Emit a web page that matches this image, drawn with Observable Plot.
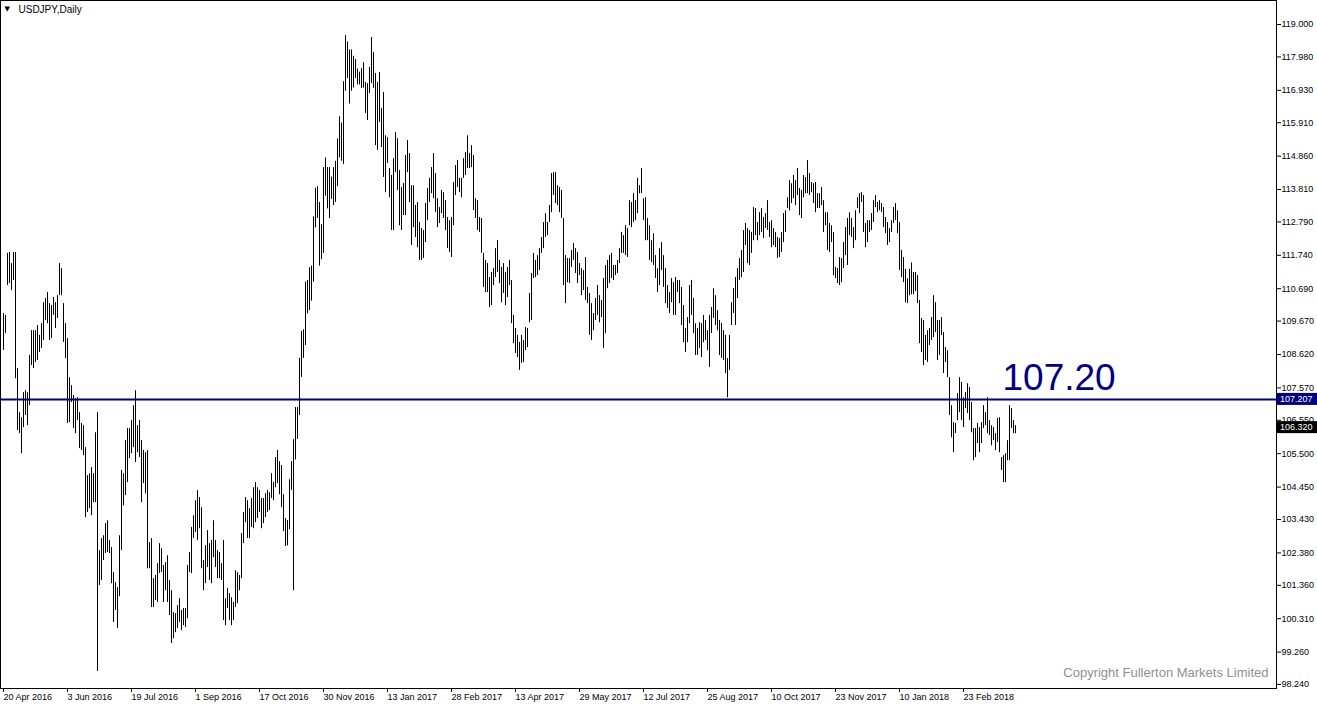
<!DOCTYPE html>
<html><head><meta charset="utf-8">
<script src="https://cdn.jsdelivr.net/npm/d3@7"></script>
<script src="https://cdn.jsdelivr.net/npm/@observablehq/plot@0.6"></script>
<style>html,body{margin:0;padding:0;background:#fff;}</style>
</head><body><div id="chart"></div>
<script>
const symbolLabel = "USDJPY,Daily";
const copyright = "Copyright Fullerton Markets Limited";

// Daily bar highs (index 0 = 20 Apr 2016)
const high = [
109.91,109.85,111.80,111.83,111.48,111.83,111.83,108.18,106.79,106.63,
107.42,107.48,107.42,108.59,109.37,109.37,109.37,109.53,109.22,109.59,
110.25,110.38,110.57,110.22,110.16,110.41,110.25,110.47,111.48,111.32,
110.22,109.59,109.12,107.89,107.64,107.33,107.23,107.26,106.79,106.45,
106.38,105.69,104.81,104.87,105.06,104.87,106.16,106.79,102.45,102.83,
102.92,103.30,103.39,102.77,102.55,101.76,101.45,101.29,102.92,104.97,
104.87,105.91,106.29,106.29,106.54,107.01,107.48,106.38,106.54,105.91,
105.60,105.53,105.60,102.70,102.83,101.57,101.67,102.04,102.67,102.51,
101.98,102.07,102.29,101.51,101.19,100.50,100.47,100.72,100.94,100.57,
100.63,100.63,101.98,102.39,103.18,103.55,104.02,104.34,104.12,103.80,
102.14,102.61,103.08,102.67,102.77,103.39,102.77,102.45,102.39,102.04,
102.77,100.94,101.26,101.10,100.97,100.82,101.82,101.76,101.67,102.99,
103.65,104.12,104.02,103.77,104.09,104.43,104.59,104.43,104.34,104.09,
104.09,104.24,104.34,104.27,104.87,104.59,105.38,105.60,105.25,105.13,
104.21,103.46,103.40,104.68,105.25,105.94,106.95,106.95,108.50,109.35,
109.40,110.90,110.95,111.35,111.40,112.95,113.85,113.90,113.40,112.70,
114.50,114.80,114.50,114.50,114.20,114.50,114.70,115.40,116.10,115.90,
117.20,118.65,118.45,118.20,118.20,118.00,117.90,117.60,117.50,117.61,
117.80,117.18,117.14,117.65,118.59,118.12,117.46,117.18,117.49,116.36,
116.86,115.50,115.44,114.47,114.25,114.78,115.60,115.41,114.41,113.87,
114.00,114.88,115.35,114.94,113.93,113.93,113.31,113.40,112.77,112.58,
112.52,113.37,113.84,114.16,114.50,114.94,114.31,113.52,113.24,113.78,
113.71,113.46,112.93,112.83,112.93,114.03,114.56,114.72,114.16,114.16,
114.78,114.97,115.50,114.94,115.19,114.88,113.52,113.46,112.93,112.90,
111.80,111.58,111.48,111.04,111.20,111.32,111.95,112.20,111.58,111.36,
111.48,111.20,111.36,111.58,110.95,109.85,109.44,109.22,109.00,109.22,
109.06,109.47,109.44,110.54,111.17,111.80,111.58,111.73,111.95,112.30,
112.77,113.05,112.77,113.31,114.31,114.34,114.34,113.93,113.87,113.78,
112.90,111.73,111.64,111.64,111.89,112.11,111.95,111.83,111.48,111.32,
111.26,111.67,110.73,110.54,110.22,109.91,110.38,110.79,110.47,110.32,
111.01,111.42,111.58,111.73,111.80,111.42,111.42,111.58,111.95,112.46,
112.36,112.67,112.58,113.46,113.40,113.68,113.46,114.16,113.93,114.47,
113.52,113.55,112.90,112.67,112.20,112.42,111.73,111.32,111.95,112.14,
111.73,111.32,110.79,110.57,111.01,110.88,111.04,110.95,110.95,110.73,
110.16,109.44,109.78,110.79,110.95,110.38,109.59,109.44,109.62,109.59,
109.85,109.69,109.37,109.85,110.10,110.69,110.47,110.00,109.69,109.60,
109.37,109.22,108.49,109.22,110.25,110.69,111.04,111.32,111.64,111.89,
112.52,112.74,112.58,112.52,112.46,113.24,113.21,112.77,113.08,113.21,
112.93,113.05,113.46,112.77,112.83,112.58,112.46,112.30,112.27,112.46,
113.05,113.14,113.55,114.09,113.99,114.25,114.09,114.47,113.84,113.78,
114.25,114.19,114.72,114.31,114.03,113.99,114.03,113.68,113.68,113.87,
113.46,113.08,113.08,112.74,112.67,112.46,111.36,111.32,111.67,111.64,
112.14,112.61,112.90,113.08,112.90,112.61,113.14,113.55,113.68,113.71,
113.62,112.74,112.83,112.83,113.05,113.46,113.62,113.40,113.46,113.37,
113.24,112.93,112.77,112.58,112.83,113.24,113.37,113.14,112.77,111.89,
111.67,111.30,111.00,111.30,111.50,111.20,111.20,111.10,110.32,109.75,
109.69,109.22,109.37,109.44,109.78,110.47,110.25,109.69,109.69,109.78,
109.31,108.84,108.74,107.89,107.01,106.48,106.45,107.39,107.89,107.74,
107.26,107.42,107.70,107.58,107.11,106.29,106.29,106.45,106.32,106.48,
107.01,106.79,107.26,106.54,106.38,106.32,106.13,106.61,106.63,105.38,
105.44,105.50,105.91,107.01,106.92,106.54,106.38
];

// Daily bar lows
const low = [
108.75,109.28,110.79,110.85,110.63,110.95,107.86,106.23,106.13,105.50,
106.32,106.70,106.38,107.01,108.27,108.18,108.37,108.43,108.68,108.81,
109.06,109.69,109.59,109.06,109.12,109.85,109.44,109.75,110.47,110.47,
109.00,108.49,106.45,106.48,107.11,106.29,106.13,106.54,105.66,105.60,
105.44,103.49,103.65,103.77,103.55,103.96,103.96,98.65,101.35,101.51,
102.14,102.36,102.39,102.36,101.41,100.19,100.57,100.00,101.00,102.45,
103.86,104.18,104.59,105.35,105.50,105.69,105.22,105.53,105.38,103.96,
104.56,104.24,101.88,101.88,100.66,100.66,100.88,100.82,101.73,101.76,
100.82,101.19,100.82,100.41,99.53,99.68,99.87,100.00,100.19,99.93,
100.09,100.03,100.31,101.76,101.73,102.83,103.02,102.77,103.14,101.88,
101.19,101.41,101.92,101.51,101.41,102.23,101.92,101.57,101.57,101.51,
100.25,100.09,100.63,100.25,100.09,100.25,100.66,100.78,101.19,101.57,
102.67,103.33,102.83,102.83,103.18,103.14,103.33,103.46,103.65,103.14,
103.30,103.49,103.65,103.71,104.09,104.02,104.43,104.56,104.21,103.80,
103.05,102.58,102.60,103.11,104.34,101.19,105.30,105.95,106.70,107.90,
108.50,108.90,109.90,110.00,110.30,110.90,112.60,112.90,111.40,111.60,
111.80,113.60,113.20,112.90,113.50,113.30,113.40,113.90,114.80,114.70,
114.60,116.90,117.30,116.50,116.90,117.00,117.30,117.10,117.10,116.99,
117.00,116.20,115.98,116.83,117.14,116.99,115.19,115.04,115.92,115.13,
114.19,113.71,114.63,113.55,112.52,112.52,114.34,113.78,112.67,112.52,
112.99,112.99,114.34,113.40,112.05,112.61,112.30,111.98,111.58,111.58,
111.64,112.14,112.83,113.40,113.68,113.52,113.09,112.61,112.74,113.05,
112.90,112.52,111.95,111.83,111.67,112.67,113.62,113.87,113.71,113.55,
114.16,114.25,114.47,114.47,114.50,113.15,112.90,112.52,112.46,111.80,
110.73,110.57,110.57,110.10,110.16,110.79,111.04,111.20,110.85,110.25,
110.54,110.16,110.41,110.79,109.59,108.96,108.65,108.52,108.12,108.34,
108.37,108.74,108.84,109.62,109.69,111.01,111.04,111.10,111.26,111.80,
111.95,112.30,112.36,112.77,113.08,113.62,113.37,113.30,113.08,112.90,
110.79,110.22,110.88,110.85,111.36,111.58,111.17,110.85,111.10,110.47,
110.63,110.32,110.22,109.22,109.06,109.37,109.69,109.85,109.62,109.78,
108.81,109.28,110.69,110.85,111.01,110.95,111.10,111.17,111.48,111.80,
111.80,111.73,111.67,112.67,112.61,112.77,112.83,113.05,113.68,113.68,
112.83,112.20,112.20,111.58,111.51,111.42,111.01,110.57,110.79,111.26,
110.73,110.22,110.07,109.91,110.25,109.85,109.85,110.57,110.22,109.53,
108.99,108.68,108.99,109.59,109.85,109.28,108.59,108.59,108.81,108.52,
108.99,109.06,108.74,108.21,109.28,109.75,109.53,109.37,108.59,108.50,
108.43,108.02,107.26,108.12,109.53,109.91,109.53,110.38,110.95,111.04,
111.20,112.05,111.48,111.42,111.80,112.20,112.36,112.20,112.36,112.46,
112.27,112.58,112.52,112.30,111.98,112.05,111.98,111.64,111.67,111.83,
112.14,112.46,113.21,113.14,113.37,113.52,113.30,113.62,112.99,112.90,
113.55,113.68,113.68,113.62,113.71,113.37,113.08,113.21,113.21,113.30,
112.46,112.67,111.89,111.83,112.14,111.10,111.01,110.85,110.79,110.88,
111.32,111.73,111.42,112.36,112.30,111.95,112.20,113.21,113.05,113.40,
112.46,111.98,112.14,112.46,112.52,112.77,113.24,113.08,113.14,113.08,
112.61,112.42,112.05,112.14,112.46,112.74,112.83,112.42,111.26,111.04,
110.88,110.25,110.22,110.47,110.50,110.50,110.60,110.22,108.96,108.68,
108.27,108.43,108.37,108.90,109.06,109.15,109.31,108.43,108.59,109.22,
108.02,108.37,107.89,106.70,106.00,105.53,106.13,106.54,106.79,106.54,
106.32,106.92,106.76,106.54,106.16,105.28,105.38,105.82,105.53,105.82,
106.29,106.38,106.13,106.07,105.75,105.91,105.60,105.85,105.53,104.97,
104.59,104.59,105.28,105.28,106.29,106.13,106.13
];

const lastClose = 106.320;
const levelValue = 107.207;
const levelLabel = "107.20";

const priceTicks = [119.000,117.980,116.930,115.910,114.860,113.810,112.790,111.740,110.690,109.670,108.620,107.570,106.550,105.500,104.450,103.430,102.380,101.360,100.310,99.260,98.240];
const priceTickLabels = ["119.000","117.980","116.930","115.910","114.860","113.810","112.790","111.740","110.690","109.670","108.620","107.570","106.550","105.500","104.450","103.430","102.380","101.360","100.310","99.260","98.240"];

const dateTickIndex = [0,32,64,96,128,160,192,224,256,288,320,352,384,416,448,480];
const dateTickLabels = ["20 Apr 2016","3 Jun 2016","19 Jul 2016","1 Sep 2016","17 Oct 2016","30 Nov 2016","13 Jan 2017","28 Feb 2017","13 Apr 2017","29 May 2017","12 Jul 2017","25 Aug 2017","10 Oct 2017","23 Nov 2017","10 Jan 2018","23 Feb 2018"];

// ---- build ----
const n = Math.min(high.length, low.length);
const bars = d3.range(n).map(i => ({i, high: high[i], low: low[i]}));

const W = 1317, H = 708, mRight = 41, mBottom = 20;
const FONT = "'Liberation Sans', Arial, sans-serif";

const priceBoxes = [
  {v: levelValue, fill: "#000080", label: levelValue.toFixed(3)},
  {v: lastClose, fill: "#000000", label: lastClose.toFixed(3)}
];

const chart = Plot.plot({
  width: W, height: H,
  marginLeft: 0, marginRight: mRight, marginTop: 0, marginBottom: mBottom,
  style: {fontFamily: FONT, fontSize: "9px", background: "#fff", color: "#000", overflow: "visible"},
  x: {type: "linear", domain: [-1.5, 636.5]},
  y: {type: "linear", domain: [98.114, 119.755]},
  marks: [
    Plot.ruleX(bars, {x: "i", y1: "low", y2: "high", stroke: "#000", strokeWidth: 1}),
    Plot.ruleY([levelValue], {stroke: "#000080", strokeWidth: 2}),
    Plot.frame({stroke: "#000"}),
    Plot.axisY({anchor: "right", ticks: priceTicks, tickFormat: d => priceTickLabels[priceTicks.indexOf(d)], tickSize: 4, tickPadding: 1, label: null, fontSize: 9, fill: "#000"}),
    Plot.axisX({anchor: "bottom", ticks: dateTickIndex, tickFormat: d => dateTickLabels[dateTickIndex.indexOf(d)], tickSize: 4, tickPadding: 1, textAnchor: "start", dx: 0, label: null, fontSize: 9, fill: "#000"}),
    Plot.text([levelLabel], {x: 499.5, y: levelValue, text: d => d, textAnchor: "start", dy: -21, fontSize: 37, fill: "#000080", fontFamily: FONT}),
    Plot.text([copyright], {frameAnchor: "bottom-right", text: d => d, dx: -8, dy: -12, fontSize: 13, fill: "#8f8f8f", fontFamily: FONT}),
    Plot.text([symbolLabel], {frameAnchor: "top-left", text: d => d, dx: 18, dy: 5, fontSize: 10, fill: "#000", fontFamily: FONT}),
    Plot.text(["\u25BC"], {frameAnchor: "top-left", text: d => d, dx: 4, dy: 6, fontSize: 7, fill: "#000", fontFamily: "'DejaVu Sans', sans-serif"}),
    (index, scales) => {
      const g = d3.create("svg:g").attr("text-anchor", "start");
      for (const b of priceBoxes) {
        const y = scales.y(b.v);
        g.append("rect").attr("x", W - mRight + 1).attr("y", y - 6).attr("width", mRight - 1).attr("height", 12).attr("fill", b.fill);
        g.append("text").attr("x", W - mRight + 4).attr("y", y).attr("dy", "0.35em").attr("text-anchor", "start")
          .attr("fill", "#fff").attr("font-size", 9).attr("font-family", FONT).text(b.label);
      }
      return g.node();
    }
  ]
});
document.getElementById("chart").appendChild(chart);
</script>
</body></html>
